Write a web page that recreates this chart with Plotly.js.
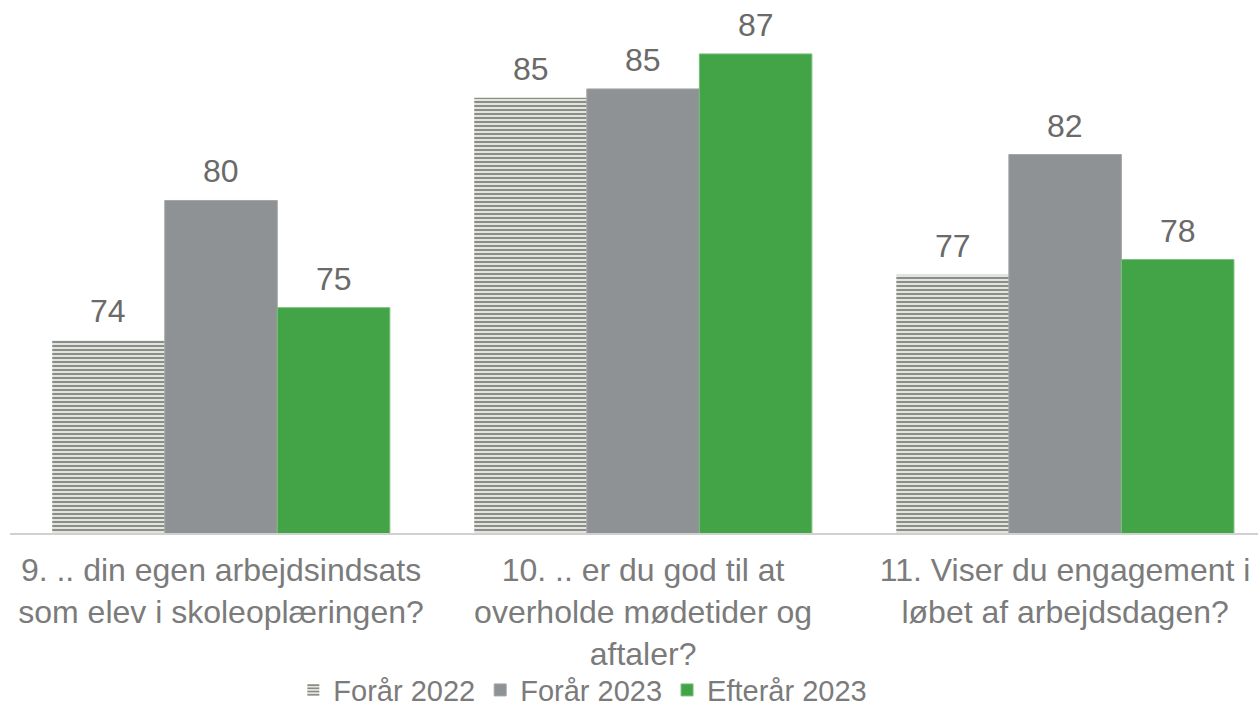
<!DOCTYPE html>
<html>
<head>
<meta charset="utf-8">
<script src="https://cdn.plot.ly/plotly-3.0.1.min.js"></script>
<style>html,body{margin:0;padding:0;background:#fff;}#chart{width:1258px;height:716px;}</style>
</head>
<body>
<div id="chart"></div>
<script>
const categories = [
  "9. .. din egen arbejdsindsats<br>som elev i skoleoplæringen?",
  "10. .. er du god til at<br>overholde mødetider og<br>aftaler?",
  "11. Viser du engagement i<br>løbet af arbejdsdagen?"
];
const seriesNames = ["Forår 2022", "Forår 2023", "Efterår 2023"];
const foraar2022 = [73.9, 85.0, 76.9];
const foraar2023 = [80.3, 85.4, 82.4];
const efteraar2023 = [75.4, 87.0, 77.6];

const FONT = "Liberation Sans, Arial, sans-serif";
const BARGAP = 0.2;

const seriesData = [foraar2022, foraar2023, efteraar2023];
const markers = [
  {color: "#dcdcd6", pattern: {shape: "-", size: 4, solidity: 0.5, fgcolor: "#8a8e88", bgcolor: "#e4e4de"}, line: {width: 0}},
  {color: "#8f9294", line: {width: 1, color: "#a3a6a7"}},
  {color: "#43a347", line: {width: 1, color: "#78bf7b"}}
];

const traces = seriesData.map((vals, j) => ({
  type: "bar", name: seriesNames[j], x: categories, y: vals,
  marker: markers[j], hoverinfo: "skip"
}));

// value labels above each bar (positioned in data units via the axes)
const nSeries = seriesData.length;
const slot = (1 - BARGAP) / nSeries;
const annotations = [];
seriesData.forEach((vals, j) => {
  vals.forEach((v, i) => {
    annotations.push({
      xref: "x", yref: "y",
      x: i + (j - (nSeries - 1) / 2) * slot, y: v,
      text: String(Math.round(v)),
      showarrow: false, yanchor: "bottom", xanchor: "center", yshift: 9,
      font: {family: FONT, size: 32, color: "#6a6a6a"}
    });
  });
});

const plotTop = 20, plotBottom = 536;
const plotH = plotBottom - plotTop;
const layout = {
  width: 1258, height: 716,
  margin: {l: 10, r: 0, t: plotTop, b: 716 - plotBottom},
  paper_bgcolor: "#ffffff", plot_bgcolor: "#ffffff",
  barmode: "group", bargap: BARGAP, bargroupgap: 0,
  showlegend: true,
  legend: {
    orientation: "h", x: 0.459, xanchor: "center",
    y: -(694 - plotBottom) / plotH, yanchor: "middle",
    font: {family: FONT, size: 29, color: "#7b7b7b"},
    itemwidth: 30, traceorder: "normal"
  },
  annotations: annotations,
  xaxis: {
    type: "category", range: [-0.5, 2.457],
    showline: true, linecolor: "#d0d0d0", linewidth: 2,
    showgrid: false, zeroline: false, ticks: "",
    tickfont: {family: FONT, size: 32, color: "#7b7b7b"},
    ticklabelstandoff: 8,
    automargin: false
  },
  yaxis: {
    range: [65.1, 88.55], visible: false, showgrid: false, zeroline: false, fixedrange: true
  },
  font: {family: FONT}
};

Plotly.newPlot("chart", traces, layout, {displayModeBar: false, staticPlot: true});
</script>
</body>
</html>
